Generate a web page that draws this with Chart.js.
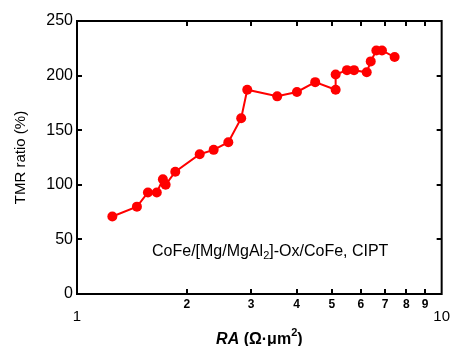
<!DOCTYPE html>
<html>
<head>
<meta charset="utf-8">
<script src="https://cdn.jsdelivr.net/npm/chart.js@4"></script>
<style>
html, body { margin: 0; padding: 0; background: #fff; }
#wrap { width: 453px; height: 346px; }
</style>
</head>
<body>
<div id="wrap"><canvas id="tmrChart" width="453" height="346"></canvas></div>
<script>
// RA (Ohm um^2) vs TMR ratio (%)
const raValues  = [1.25, 1.46, 1.565, 1.655, 1.72, 1.75, 1.86, 2.17, 2.37, 2.6, 2.82, 2.93, 3.54, 4.01, 4.5, 5.12, 5.12, 5.5, 5.75, 6.23, 6.39, 6.62, 6.86, 7.43];
const tmrValues = [71, 80, 93, 93, 105, 100, 112, 128, 132, 139, 161, 187, 181, 185, 194, 187, 201, 205, 205, 203, 213, 223, 223, 217];

const xTickValues = [1, 2, 3, 4, 5, 6, 7, 8, 9, 10];
const xTickLabels = ['1', '2', '3', '4', '5', '6', '7', '8', '9', '10'];
const yTickValues = [0, 50, 100, 150, 200, 250];

const FONT = '"Liberation Sans", Arial, sans-serif';
const TICK_LEN = 5;

// frame with inward ticks, annotation and x title
const framePlugin = {
    id: 'frame',
    afterDraw(chart) {
        const ctx = chart.ctx;
        const a = chart.chartArea;
        const x = chart.scales.x;
        const y = chart.scales.y;
        ctx.save();
        ctx.strokeStyle = '#000';
        ctx.fillStyle = '#000';
        ctx.lineWidth = 2;
        ctx.strokeRect(a.left, a.top, a.right - a.left, a.bottom - a.top);

        // inward tick marks
        xTickValues.forEach(v => {
            if (v === x.min || v === x.max) return;
            const px = Math.round(x.getPixelForValue(v));
            ctx.fillRect(px - 1, a.bottom - TICK_LEN, 2, TICK_LEN);
            ctx.fillRect(px - 1, a.top, 2, TICK_LEN);
        });
        yTickValues.forEach(v => {
            if (v === y.min || v === y.max) return;
            const py = Math.round(y.getPixelForValue(v));
            ctx.fillRect(a.left, py - 1, TICK_LEN, 2);
            ctx.fillRect(a.right - TICK_LEN, py - 1, TICK_LEN, 2);
        });

        // sample label
        ctx.textBaseline = 'alphabetic';
        ctx.textAlign = 'left';
        let tx = 152;
        const ty = 256;
        ctx.font = '16px ' + FONT;
        ctx.fillText('CoFe/[Mg/MgAl', tx, ty);
        tx += ctx.measureText('CoFe/[Mg/MgAl').width;
        ctx.font = '11px ' + FONT;
        ctx.fillText('2', tx, ty + 3);
        tx += ctx.measureText('2').width;
        ctx.font = '16px ' + FONT;
        ctx.fillText(']-Ox/CoFe, CIPT', tx, ty);

        // x axis title: RA (Ω·μm²)
        const parts = [
            { t: 'RA', f: 'italic bold 16px ' + FONT, dy: 0 },
            { t: ' (\u03A9\u00B7\u03BCm', f: 'bold 16px ' + FONT, dy: 0 },
            { t: '2', f: 'bold 11px ' + FONT, dy: -8 },
            { t: ')', f: 'bold 16px ' + FONT, dy: 0 }
        ];
        let total = 0;
        parts.forEach(p => { ctx.font = p.f; p.w = ctx.measureText(p.t).width; total += p.w; });
        let px = (a.left + a.right) / 2 - total / 2;
        parts.forEach(p => {
            ctx.font = p.f;
            ctx.fillText(p.t, px, 344 + p.dy);
            px += p.w;
        });
        ctx.restore();
    }
};

new Chart(document.getElementById('tmrChart'), {
    type: 'scatter',
    data: {
        datasets: [{
            data: raValues.map((v, i) => ({ x: v, y: tmrValues[i] })),
            showLine: true,
            borderColor: '#ff0000',
            backgroundColor: '#ff0000',
            borderWidth: 2,
            pointRadius: 5,
            pointHoverRadius: 5,
            pointBorderWidth: 0
        }]
    },
    options: {
        responsive: false,
        animation: false,
        devicePixelRatio: 1,
        layout: { padding: { top: 21, right: 9, left: 0, bottom: 0 } },
        plugins: {
            legend: { display: false },
            tooltip: { enabled: false }
        },
        scales: {
            x: {
                type: 'logarithmic',
                min: 1,
                max: 10,
                grid: { display: false, drawTicks: false },
                border: { display: false },
                afterBuildTicks: scale => {
                    scale.ticks = xTickValues.map(v => ({ value: v }));
                },
                afterFit: scale => { scale.height = 52; },
                ticks: {
                    color: '#000',
                    padding: 3,
                    maxRotation: 0,
                    autoSkip: false,
                    font: c => (c.tick && (c.tick.value === 1 || c.tick.value === 10))
                        ? { family: FONT, size: 15, lineHeight: 0.9 }
                        : { family: FONT, size: 12, weight: 'bold' },
                    callback: (v, i) => (v === 1 || v === 10) ? ['', xTickLabels[i]] : xTickLabels[i]
                }
            },
            y: {
                min: 0,
                max: 250,
                grid: { display: false, drawTicks: false },
                border: { display: false },
                afterFit: scale => { scale.width = 77; },
                ticks: {
                    stepSize: 50,
                    color: '#000',
                    padding: 4,
                    font: { family: FONT, size: 16 }
                },
                title: {
                    display: true,
                    text: 'TMR ratio (%)',
                    color: '#000',
                    font: { family: FONT, size: 15 },
                    padding: { top: 12, bottom: 0 }
                }
            }
        }
    },
    plugins: [framePlugin]
});
</script>
</body>
</html>
